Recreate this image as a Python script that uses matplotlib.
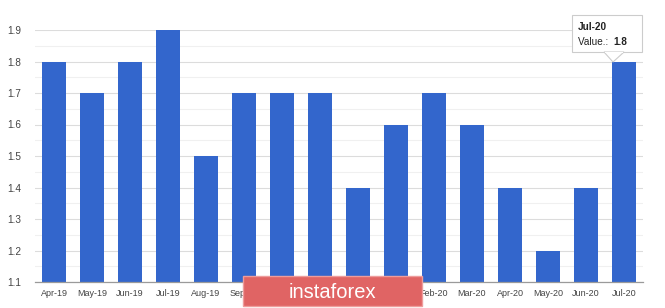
import matplotlib
matplotlib.use("Agg")
import matplotlib.pyplot as plt
from matplotlib.patches import Polygon, FancyBboxPatch
import numpy as np

categories = ["Apr-19", "May-19", "Jun-19", "Jul-19", "Aug-19", "Sep-19", "Oct-19", "Nov-19",
              "Dec-19", "Jan-20", "Feb-20", "Mar-20", "Apr-20", "May-20", "Jun-20", "Jul-20"]
values = [1.8, 1.7, 1.8, 1.9, 1.5, 1.7, 1.7, 1.7, 1.4, 1.6, 1.7, 1.6, 1.4, 1.2, 1.4, 1.8]
yticks = [1.1, 1.2, 1.3, 1.4, 1.5, 1.6, 1.7, 1.8, 1.9]

plt.rcParams['font.family'] = ['Liberation Sans', 'DejaVu Sans']

W, H = 665, 308
fig = plt.figure(figsize=(W / 100, H / 100), dpi=100)
ax = fig.add_axes([35 / W, 1 - 282 / H, 608 / W, 252 / H])

x = np.arange(len(categories))
ax.bar(x, values, width=0.62, color="#3366cc", zorder=3)
ax.set_xlim(-0.5, len(categories) - 0.5)
ax.set_ylim(1.1, 1.9)

ax.set_yticks(yticks)
ax.set_yticklabels([f"{v:.1f}" for v in yticks])
ax.set_yticks(np.arange(1.15, 1.9, 0.1), minor=True)
ax.set_xticks(x)
ax.set_xticklabels(categories)

ax.grid(axis='y', which='major', color='#dcdcdc', linewidth=0.8, zorder=0)
ax.grid(axis='y', which='minor', color='#f0f0f0', linewidth=0.8, zorder=0)
ax.axhline(1.1, color='#9a9a9a', linewidth=0.9, zorder=4, clip_on=False)

for s in ax.spines.values():
    s.set_visible(False)
ax.tick_params(axis='y', which='both', length=0, labelsize=7.2, colors='#444444', pad=10)
ax.tick_params(axis='x', which='both', length=0, labelsize=6.5, colors='#444444', pad=5)

# Tooltip
def fx(px):
    return px / W

def fy(py):
    return 1 - py / H

box = FancyBboxPatch((fx(572), fy(52)), fx(642) - fx(572), fy(15) - fy(52),
                     boxstyle="square,pad=0", transform=fig.transFigure,
                     facecolor='white', edgecolor='#cccccc', linewidth=0.8, zorder=10)
fig.patches.append(box)
tail = Polygon([(fx(604), fy(52)), (fx(613), fy(62)), (fx(624), fy(52))], closed=True,
               transform=fig.transFigure, facecolor='white', edgecolor='#cccccc',
               linewidth=0.8, zorder=11)
fig.patches.append(tail)
cover = Polygon([(fx(605), fy(51.6)), (fx(623), fy(51.6)), (fx(623), fy(53)), (fx(605), fy(53))],
                closed=True, transform=fig.transFigure, facecolor='white', edgecolor='none', zorder=12)
fig.patches.append(cover)
fig.text(fx(578), fy(27), categories[-1], fontsize=7.2, fontweight='bold', color='#222222',
         va='center', ha='left', zorder=13)
fig.text(fx(578), fy(42), "Value.: ", fontsize=7.2, color='#222222', va='center', ha='left', zorder=13)
fig.text(fx(613), fy(42), f"{values[-1]:.1f}", fontsize=7.2, fontweight='bold', color='#222222',
         va='center', ha='left', zorder=13)

# Watermark
wm = FancyBboxPatch((fx(243), fy(306)), fx(422) - fx(243), fy(276) - fy(306),
                    boxstyle="square,pad=0", transform=fig.transFigure,
                    facecolor='#e06464', edgecolor='#ee9c9c', linewidth=1.0, zorder=20)
fig.patches.append(wm)
fig.text(fx(332), fy(292), "instaforex", fontsize=14.5, color='white', ha='center', va='center', zorder=21)

fig.savefig("out.png", dpi=100)
